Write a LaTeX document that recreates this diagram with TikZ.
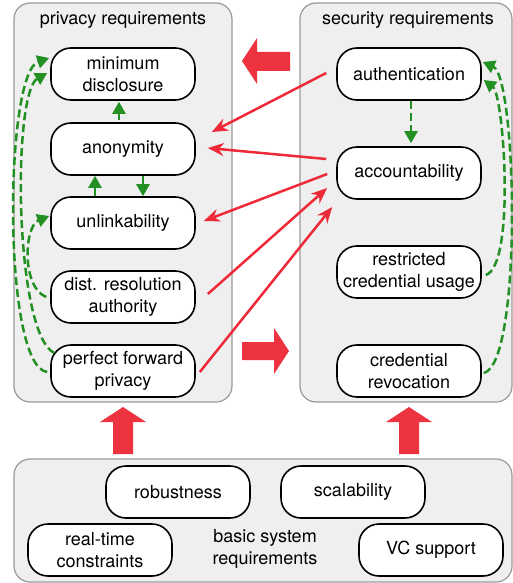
\documentclass[tikz,border=0pt]{standalone}
\usepackage{fontspec}
\setmainfont{TeX Gyre Heros}
\usetikzlibrary{arrows.meta,calc}

\definecolor{panelgray}{HTML}{EFEFEF}
\definecolor{panelline}{HTML}{9A9A9A}
\definecolor{linkred}{HTML}{EE2A38}
\definecolor{bigred}{HTML}{EE3340}
\definecolor{depgreen}{HTML}{229022}

\tikzset{
  req/.style={draw, line width=1.6pt, rounded corners=20pt, fill=white,
    minimum width=144pt, minimum height=52pt, align=center, inner sep=2pt},
  panel/.style={draw=panelline, fill=panelgray, line width=1.2pt, rounded corners=16pt},
  title/.style={anchor=base},
  conflict/.style={draw=linkred, line width=2.5pt, -{Stealth[length=16pt,width=13pt]}},
  depends/.style={draw=depgreen, line width=2.5pt, dash pattern=on 8pt off 4pt,
    -{Triangle[length=12pt,width=13pt]}},
}

\begin{document}
\begin{tikzpicture}[x=1pt,y=-1pt,font=\fontsize{18}{22}\selectfont]
    \useasboundingbox (0,0) rectangle (513,583);

    % panels
    \draw[panel] (14,3) rectangle (232,402);
    \draw[panel] (300,3) rectangle (512,402);
    \draw[panel] (14,459) rectangle (512,582);
    \node[title] (privtitle) at (123,25) {privacy requirements};
    \node[title] (sectitle) at (408,25) {security requirements};

    % privacy requirements
    \node[req] (md) at (123,74) {minimum\\disclosure};
    \node[req] (anon) at (123,149) {anonymity};
    \node[req] (unl) at (123,223) {unlinkability};
    \node[req] (dra) at (123,297) {dist. resolution\\authority};
    \node[req] (pfp) at (123,371) {perfect forward\\privacy};

    % security requirements
    \node[req] (auth) at (409,74) {authentication};
    \node[req] (acc) at (409,173) {accountability};
    \node[req] (rcu) at (409,272) {restricted\\credential usage};
    \node[req] (crev) at (409,371) {credential\\revocation};

    % basic system requirements
    \node[req] (rob) at (178,492) {robustness};
    \node[req] (scal) at (353,492) {scalability};
    \node[req] (rtc) at (100,550) {real-time\\constraints};
    \node[req] (vc) at (431,550) {VC support};
    \node[align=center] (basic) at (265,549) {basic system\\requirements};

    % big arrows
    \fill[bigred] (242,61) -- (257,38) -- (257,52) -- (290,52) -- (290,71)
        -- (257,71) -- (257,84) -- cycle;
    \fill[bigred] (242,342) -- (274,342) -- (274,328) -- (289,351) -- (274,374)
        -- (274,360) -- (242,360) -- cycle;
    \foreach \x in {123,409}
        \fill[bigred] (\x-10,454) -- (\x-10,422) -- (\x-23,422) -- (\x,407)
            -- (\x+23,422) -- (\x+10,422) -- (\x+10,454) -- cycle;

    % conflicts
    \draw[conflict] ($(auth.west)+(-10,-1)$) -- ($(anon.east)+(16,-17)$);
    \draw[conflict] ($(acc.west)+(-10,-14)$) -- ($(anon.east)+(12,-1)$);
    \draw[conflict] ($(acc.west)+(-9,1)$) -- ($(unl.east)+(8,-2)$);
    \draw[conflict] ($(dra.east)+(12,-3)$) -- ($(acc.west)+(-9,15)$);
    \draw[conflict] ($(pfp.east)+(4,1)$) -- ($(acc.west)+(-4,34)$);

    % dependencies
    \draw[depends] ($(anon.north)+(-4,-2)$) -- ($(md.south)+(-4,1)$);
    \draw[depends] ($(unl.north)+(-28,0)$) -- ($(anon.south)+(-28,0)$);
    \draw[depends] ($(anon.south)+(20,0)$) -- ($(unl.north)+(20,0)$);
    \draw[depends] ($(auth.south)+(2,0)$) -- ($(acc.north)+(2,-3)$);
    \draw[depends] ($(pfp.west)+(-3,1)$) .. controls +(-45,-5) and +(-45,15) .. ($(md.west)+(-1,-16)$);
    \draw[depends] ($(pfp.west)+(4,-18)$) .. controls +(-40,-20) and +(-35,20) .. ($(md.west)+(-3,-1)$);
    \draw[depends] ($(dra.west)+(-4,0)$) .. controls +(-25,-10) and +(-25,10) .. ($(unl.west)+(-1,-7)$);
    \draw[depends] ($(rcu.east)+(4,3)$) .. controls +(30,-10) and +(20,15) .. ($(auth.east)+(2,6)$);
    \draw[depends] ($(crev.east)+(2,2)$) .. controls +(39,-10) and +(34,15) .. ($(auth.east)+(1,-12)$);
\end{tikzpicture}
\end{document}
